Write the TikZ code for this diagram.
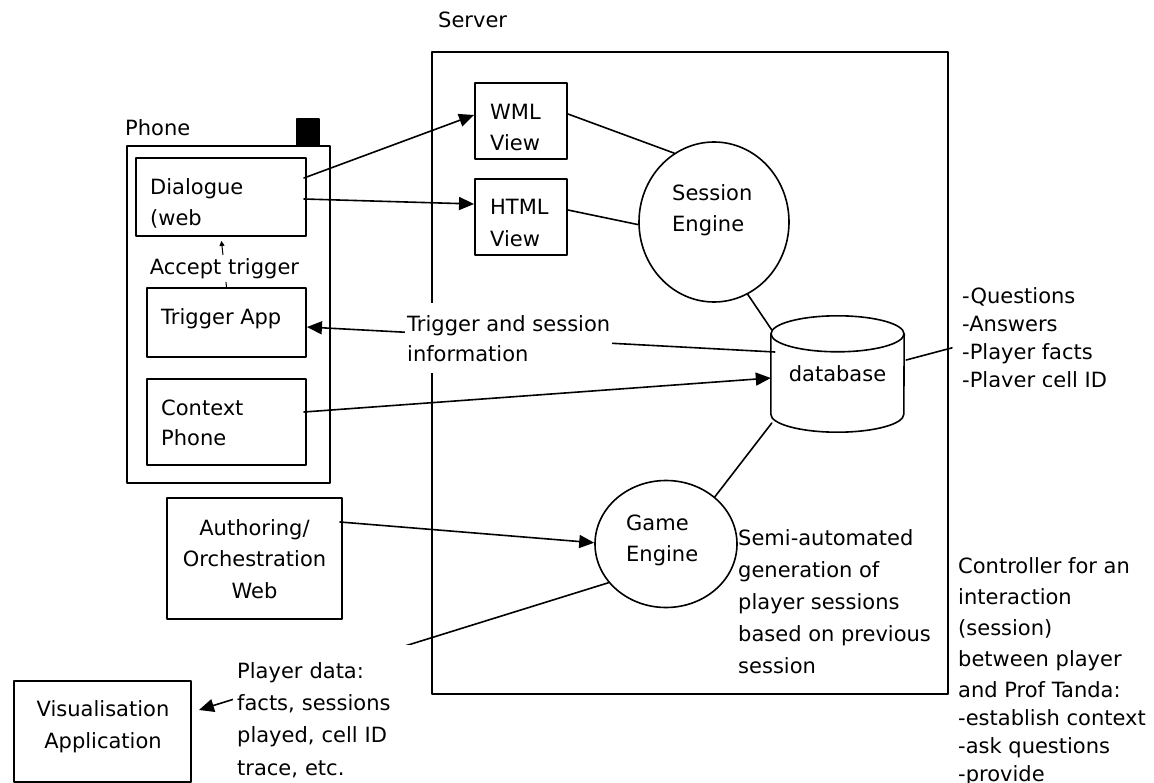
\documentclass[tikz,border=0pt]{standalone}
\usepackage{fontspec}
\setmainfont{DejaVu Sans}
\usetikzlibrary{arrows.meta,shapes.geometric}

\tikzset{
  box/.style={draw,line width=1.9pt,inner sep=0pt},
  engine/.style={draw,ellipse,line width=1.6pt,inner sep=0pt},
  txt/.style={anchor=north west,inner sep=0pt,align=left},
  link/.style={line width=1.6pt},
  flow/.style={line width=1.6pt,-{Triangle[length=15pt,width=13pt]}},
  nudge/.style={line width=1pt,-{Triangle[length=5pt,width=5pt]}},
}

\begin{document}
\begin{tikzpicture}[x=1pt,y=-1pt,line cap=round,line join=round,
  font=\fontsize{21}{31}\selectfont]
  \useasboundingbox (0,0) rectangle (1154,783);

  \node[box,minimum width=516,minimum height=642] (server) at (690,373) {};
  \node[txt] (servername) at (438,12) {Server};

  \node[box,minimum width=203,minimum height=337] (phone) at (228.5,314.5) {};
  \node[box,fill=black,minimum width=22,minimum height=27] (antenna) at (308,132.5) {};
  \node[txt] (phonename) at (125,119) {Phone};

  \node[box,minimum width=170,minimum height=78] (dialogue) at (221,197) {};
  \node[txt] (dialoguetext) at (150,178) {Dialogue\\(web};
  \node[box,minimum width=159,minimum height=69] (trigger) at (226.5,322.5) {};
  \node[txt] (triggertext) at (161,308) {Trigger App};
  \node[box,minimum width=159,minimum height=86] (context) at (226.5,422) {};
  \node[txt,font=\fontsize{21}{30}\selectfont] (contexttext) at (161,400) {Context\\Phone};

  \node[box,minimum width=92,minimum height=76] (wml) at (521,121) {};
  \node[txt] (wmltext) at (490,104) {WML\\View};
  \node[box,minimum width=92,minimum height=76] (html) at (521,217) {};
  \node[txt,font=\fontsize{21}{32}\selectfont] (htmltext) at (490,199) {HTML\\View};

  \node[engine,minimum width=150,minimum height=160] (session) at (714,222) {};
  \node[txt] (sessiontext) at (672,184) {Session\\Engine};
  \node[engine,minimum width=142,minimum height=127] (game) at (666,544) {};
  \node[txt] (gametext) at (626,515) {Game\\Engine};

  \node[minimum width=133,minimum height=116,inner sep=0pt] (db) at (837.5,374) {database};
  \draw[link] ([yshift=-18pt]db.north) ellipse[x radius=66.5,y radius=18];
  \draw[link] ([yshift=-18pt]db.north west) -- ([yshift=18pt]db.south west)
    arc[start angle=180,end angle=0,x radius=66.5,y radius=18] -- ([yshift=-18pt]db.north east);

  \node[box,minimum width=175,minimum height=121] (authoring) at (254.5,558.5) {};
  \node[txt,anchor=north,align=center,font=\fontsize{21}{31.5}\selectfont] (authoringtext) at (254.5,519) {Authoring/\\Orchestration\\Web};
  \node[box,minimum width=177,minimum height=101] (vis) at (102.5,731.5) {};
  \node[txt,anchor=north,align=center,font=\fontsize{21}{32}\selectfont] (vistext) at (103,700) {Visualisation\\Application};

  \node[txt,font=\fontsize{21}{32}\selectfont] (semi) at (738,529) {Semi-automated\\generation of\\player sessions\\based on previous\\session};
  \node[txt] (controller) at (958,557) {Controller for an\\interaction\\(session)\\between player\\and Prof Tanda:\\[-3pt]-establish context\\[-3pt]-ask questions\\[-3pt]-provide};
  \begin{scope}
    \clip (955,280) rectangle (1154,387);
    \node[txt,font=\fontsize{21}{28}\selectfont] (list) at (962,287) {-Questions\\-Answers\\-Player facts\\-Player cell ID};
  \end{scope}

  \draw[flow] ([xshift=-3pt,yshift=19pt]dialogue.east) -- ([yshift=6pt]wml.west);
  \draw[flow] ([xshift=-3pt,yshift=-2pt]dialogue.east) -- ([yshift=13pt]html.west);
  \draw[link] ([yshift=7pt]wml.east) -- (session.120);
  \draw[link] ([yshift=7pt]html.east) -- (session.182);
  \draw[link] (session.295) -- ([xshift=1pt,yshift=44pt]db.west);
  \draw[flow] ([xshift=4pt,yshift=22pt]db.west) -- ([yshift=-4.5pt]trigger.east);
  \draw[flow] ([xshift=-3pt,yshift=10pt]context.east) -- ([yshift=-4pt]db.west);
  \draw[link] ([xshift=2pt,yshift=14pt]db.east) -- ([xshift=-10pt,yshift=-8.5pt]list.west);
  \draw[link] ([xshift=1pt,yshift=-49pt]db.west) -- (game.44);
  \draw[flow] ([xshift=-3pt,yshift=36.5pt]authoring.east) -- (game.179);
  \draw[flow] (game.214) -- ([xshift=7pt,yshift=21.5pt]vis.east);
  \draw[nudge,shorten >=4pt] (trigger.north) -- node[pos=.37,fill=white,inner sep=3pt] (accept) {Accept trigger} (dialogue.south);

  \node[txt,fill=white,inner xsep=2pt,inner ysep=12pt,font=\fontsize{21}{30}\selectfont] (triggerinfo) at (405,303) {Trigger and session\\information};
  \node[txt,fill=white,inner xsep=4pt,inner ysep=17pt,text width=170pt,font=\fontsize{21}{32.3}\selectfont] (playerdata) at (233,645) {Player data:\\facts, sessions\\played, cell ID\\trace, etc.};
\end{tikzpicture}
\end{document}
